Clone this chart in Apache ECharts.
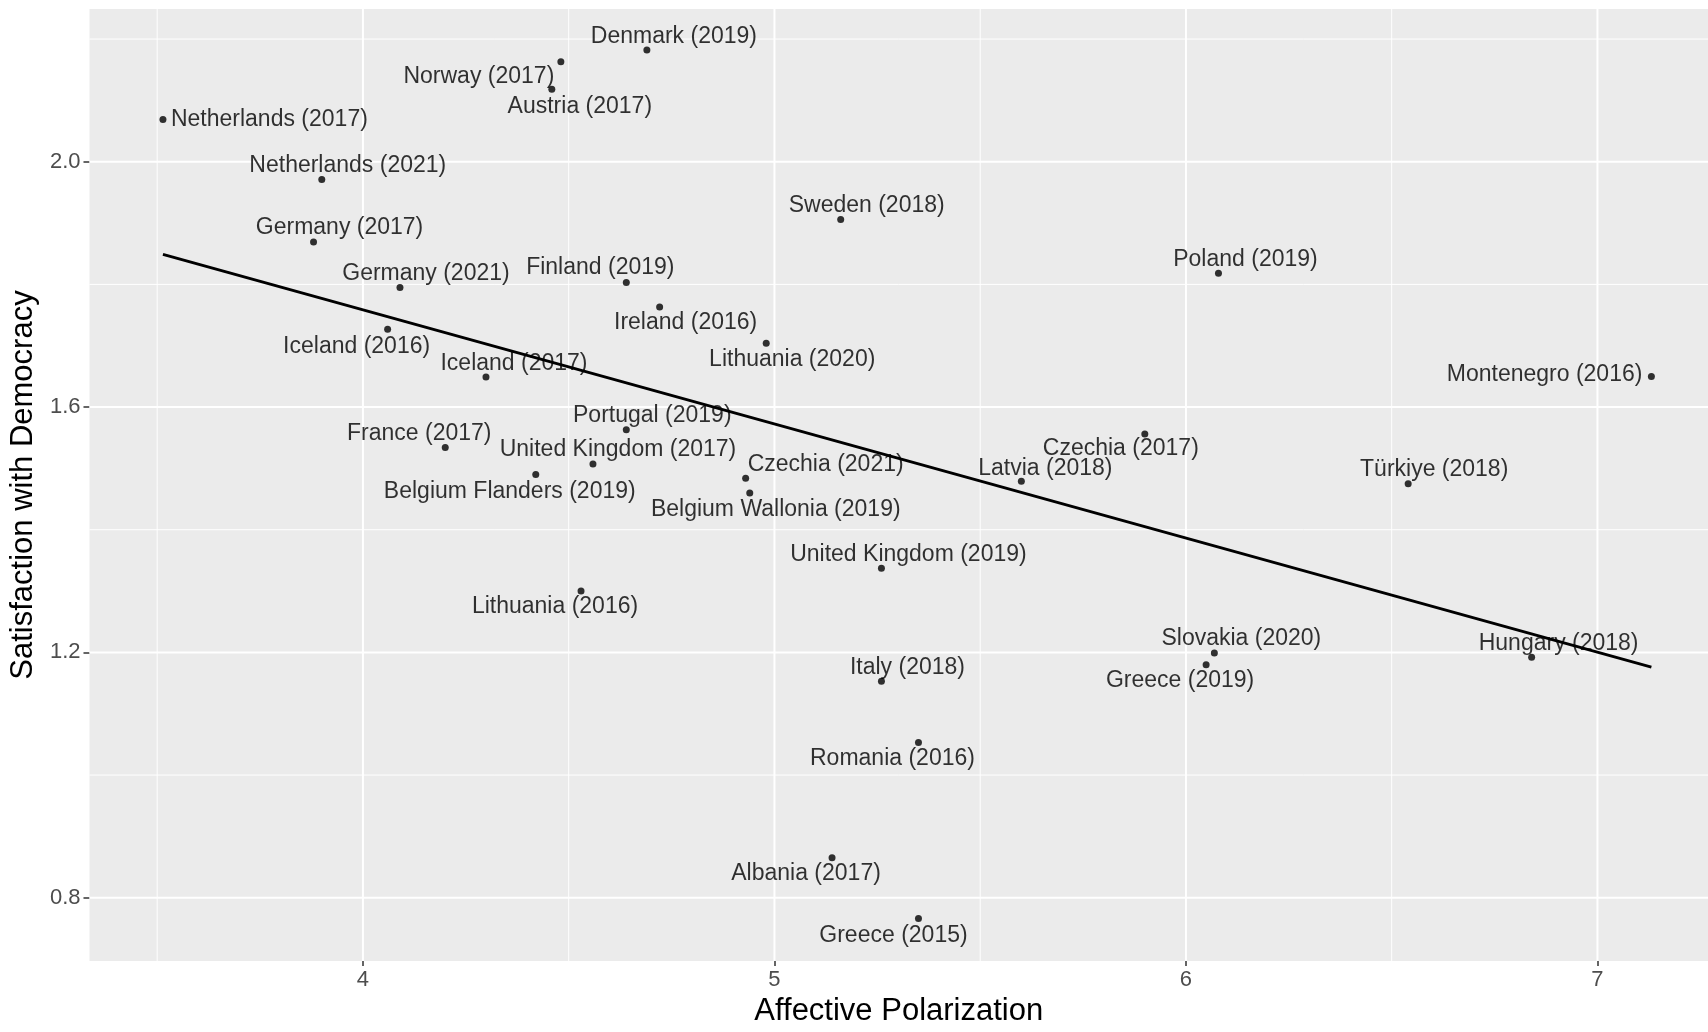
<!DOCTYPE html>
<html>
<head>
<meta charset="utf-8">
<script src="https://cdn.jsdelivr.net/npm/echarts@6/dist/echarts.min.js"></script>
<style>
  html, body { margin: 0; padding: 0; background: #ffffff; }
  #chart { width: 1708px; height: 1032px; }
</style>
</head>
<body>
<div id="chart"></div>
<script>
// Country-election cases
const countries = [
  'Netherlands (2017)', 'Norway (2017)', 'Austria (2017)', 'Denmark (2019)',
  'Netherlands (2021)', 'Germany (2017)', 'Germany (2021)', 'Finland (2019)',
  'Ireland (2016)', 'Sweden (2018)', 'Lithuania (2020)', 'Iceland (2016)',
  'Iceland (2017)', 'Poland (2019)', 'Montenegro (2016)', 'Portugal (2019)',
  'France (2017)', 'United Kingdom (2017)', 'Belgium Flanders (2019)', 'Czechia (2021)',
  'Belgium Wallonia (2019)', 'Latvia (2018)', 'Czechia (2017)', 'Türkiye (2018)',
  'United Kingdom (2019)', 'Lithuania (2016)', 'Slovakia (2020)', 'Greece (2019)',
  'Hungary (2018)', 'Italy (2018)', 'Romania (2016)', 'Albania (2017)', 'Greece (2015)'
];
// Affective polarization (x)
const polarization = [
  3.514, 4.481, 4.459, 4.690,
  3.900, 3.880, 4.090, 4.640,
  4.721, 5.161, 4.980, 4.060,
  4.299, 6.079, 7.131, 4.640,
  4.200, 4.559, 4.420, 4.930,
  4.940, 5.600, 5.900, 6.540,
  5.260, 4.530, 6.069, 6.049,
  6.840, 5.260, 5.350, 5.140, 5.350
];
// Satisfaction with democracy (y)
const satisfaction = [
  2.069, 2.163, 2.118, 2.182,
  1.971, 1.869, 1.795, 1.803,
  1.763, 1.906, 1.704, 1.727,
  1.649, 1.818, 1.650, 1.563,
  1.534, 1.507, 1.490, 1.484,
  1.460, 1.479, 1.556, 1.475,
  1.337, 1.300, 1.199, 1.180,
  1.192, 1.153, 1.053, 0.865, 0.766
];
// Linear fit end points
const fitX = [3.514, 7.131];
const fitY = [1.849, 1.176];

// Axis ticks and grid lines
const xTicks = [4, 5, 6, 7];
const xMinor = [3.5, 4.5, 5.5, 6.5];
const yTicks = [0.8, 1.2, 1.6, 2.0];
const yMinor = [1.0, 1.4, 1.8, 2.2];

// Label placement: offset of each label's centre from its point (px)
const labelOffsets = {
  'Netherlands (2017)': [8, 0, 'left'],
  'Norway (2017)': [-82, 15],
  'Austria (2017)': [28, 17],
  'Denmark (2019)': [27, -13],
  'Netherlands (2021)': [26, -14],
  'Germany (2017)': [26, -14],
  'Germany (2021)': [26, -14],
  'Finland (2019)': [-26, -15],
  'Ireland (2016)': [26, 16],
  'Sweden (2018)': [26, -14],
  'Lithuania (2020)': [26, 16],
  'Iceland (2016)': [-31, 17],
  'Iceland (2017)': [28, -13],
  'Poland (2019)': [27, -14],
  'Montenegro (2016)': [-9, -2, 'right'],
  'Portugal (2019)': [26, -14],
  'France (2017)': [-26, -14],
  'United Kingdom (2017)': [25, -14],
  'Belgium Flanders (2019)': [-26, 17],
  'Czechia (2021)': [80, -14],
  'Belgium Wallonia (2019)': [26, 17],
  'Latvia (2018)': [24, -13],
  'Czechia (2017)': [-24, 15],
  'Türkiye (2018)': [26, -14],
  'United Kingdom (2019)': [27, -14],
  'Lithuania (2016)': [-26, 16],
  'Slovakia (2020)': [27, -14],
  'Greece (2019)': [-26, 16],
  'Hungary (2018)': [27, -14],
  'Italy (2018)': [26, -14],
  'Romania (2016)': [-26, 16],
  'Albania (2017)': [-26, 16],
  'Greece (2015)': [-25, 17]
};

const FONT = "'Liberation Sans', Arial, Helvetica, sans-serif";
const X_MIN = 3.3355, X_MAX = 7.2686;
const Y_MIN = 0.6967, Y_MAX = 2.249;

// grid line items: [x, y, orientation (0 vertical / 1 horizontal), major]
const gridLines = [];
xMinor.forEach(v => gridLines.push([v, 1.5, 0, 0]));
yMinor.forEach(v => gridLines.push([5, v, 1, 0]));
xTicks.forEach(v => gridLines.push([v, 1.5, 0, 1]));
yTicks.forEach(v => gridLines.push([5, v, 1, 1]));

const points = countries.map((name, i) => {
  const off = labelOffsets[name] || [0, -14];
  return {
    name: name,
    value: [polarization[i], satisfaction[i]],
    label: { offset: [off[0], off[1]], align: off[2] || 'center' }
  };
});

const chart = echarts.init(document.getElementById('chart'), null, { renderer: 'canvas' });

chart.setOption({
  animation: false,
  backgroundColor: '#ffffff',
  grid: {
    left: 87, right: 0, top: 9, bottom: 61,
    show: true, backgroundColor: '#EBEBEB', borderWidth: 0
  },
  xAxis: {
    type: 'value', min: X_MIN, max: X_MAX,
    axisLine: { show: false },
    splitLine: { show: false },
    axisTick: { show: true, customValues: xTicks, length: 5, lineStyle: { color: '#333333', width: 1.5 } },
    axisLabel: { customValues: xTicks, color: '#4D4D4D', fontSize: 22, fontFamily: FONT, margin: 8 },
    name: 'Affective Polarization',
    nameLocation: 'middle', nameGap: 31,
    nameTextStyle: { color: '#000000', fontSize: 31, fontFamily: FONT }
  },
  yAxis: {
    type: 'value', min: Y_MIN, max: Y_MAX,
    axisLine: { show: false },
    splitLine: { show: false },
    axisTick: { show: true, customValues: yTicks, length: 6, lineStyle: { color: '#333333', width: 1.5 } },
    axisLabel: {
      customValues: yTicks, color: '#4D4D4D', fontSize: 22, fontFamily: FONT, margin: 9,
      formatter: v => v.toFixed(1)
    },
    name: 'Satisfaction with Democracy',
    nameLocation: 'middle', nameGap: 47, nameRotate: 90,
    nameTextStyle: { color: '#000000', fontSize: 31, fontFamily: FONT }
  },
  series: [
    {
      type: 'custom',
      silent: true,
      z: 1,
      data: gridLines,
      encode: { x: 0, y: 1 },
      renderItem: function (params, api) {
        const cs = params.coordSys;
        const p = api.coord([api.value(0), api.value(1)]);
        const w = api.value(3) ? 2 : 1;
        if (api.value(2) === 0) {
          return { type: 'line', shape: { x1: p[0], y1: cs.y, x2: p[0], y2: cs.y + cs.height },
                   style: { stroke: '#ffffff', lineWidth: w } };
        }
        return { type: 'line', shape: { x1: cs.x, y1: p[1], x2: cs.x + cs.width, y2: p[1] },
                 style: { stroke: '#ffffff', lineWidth: w } };
      }
    },
    {
      type: 'scatter',
      z: 2,
      symbol: 'circle',
      symbolSize: 7,
      itemStyle: { color: '#000000' },
      label: {
        show: true,
        position: 'inside',
        formatter: '{b}',
        color: '#000000',
        fontSize: 23,
        fontFamily: FONT,
        verticalAlign: 'middle'
      },
      data: points
    },
    {
      type: 'line',
      z: 5,
      symbol: 'none',
      silent: true,
      lineStyle: { color: '#000000', width: 2.8 },
      data: fitX.map((x, i) => [x, fitY[i]])
    }
  ]
});
</script>
</body>
</html>
